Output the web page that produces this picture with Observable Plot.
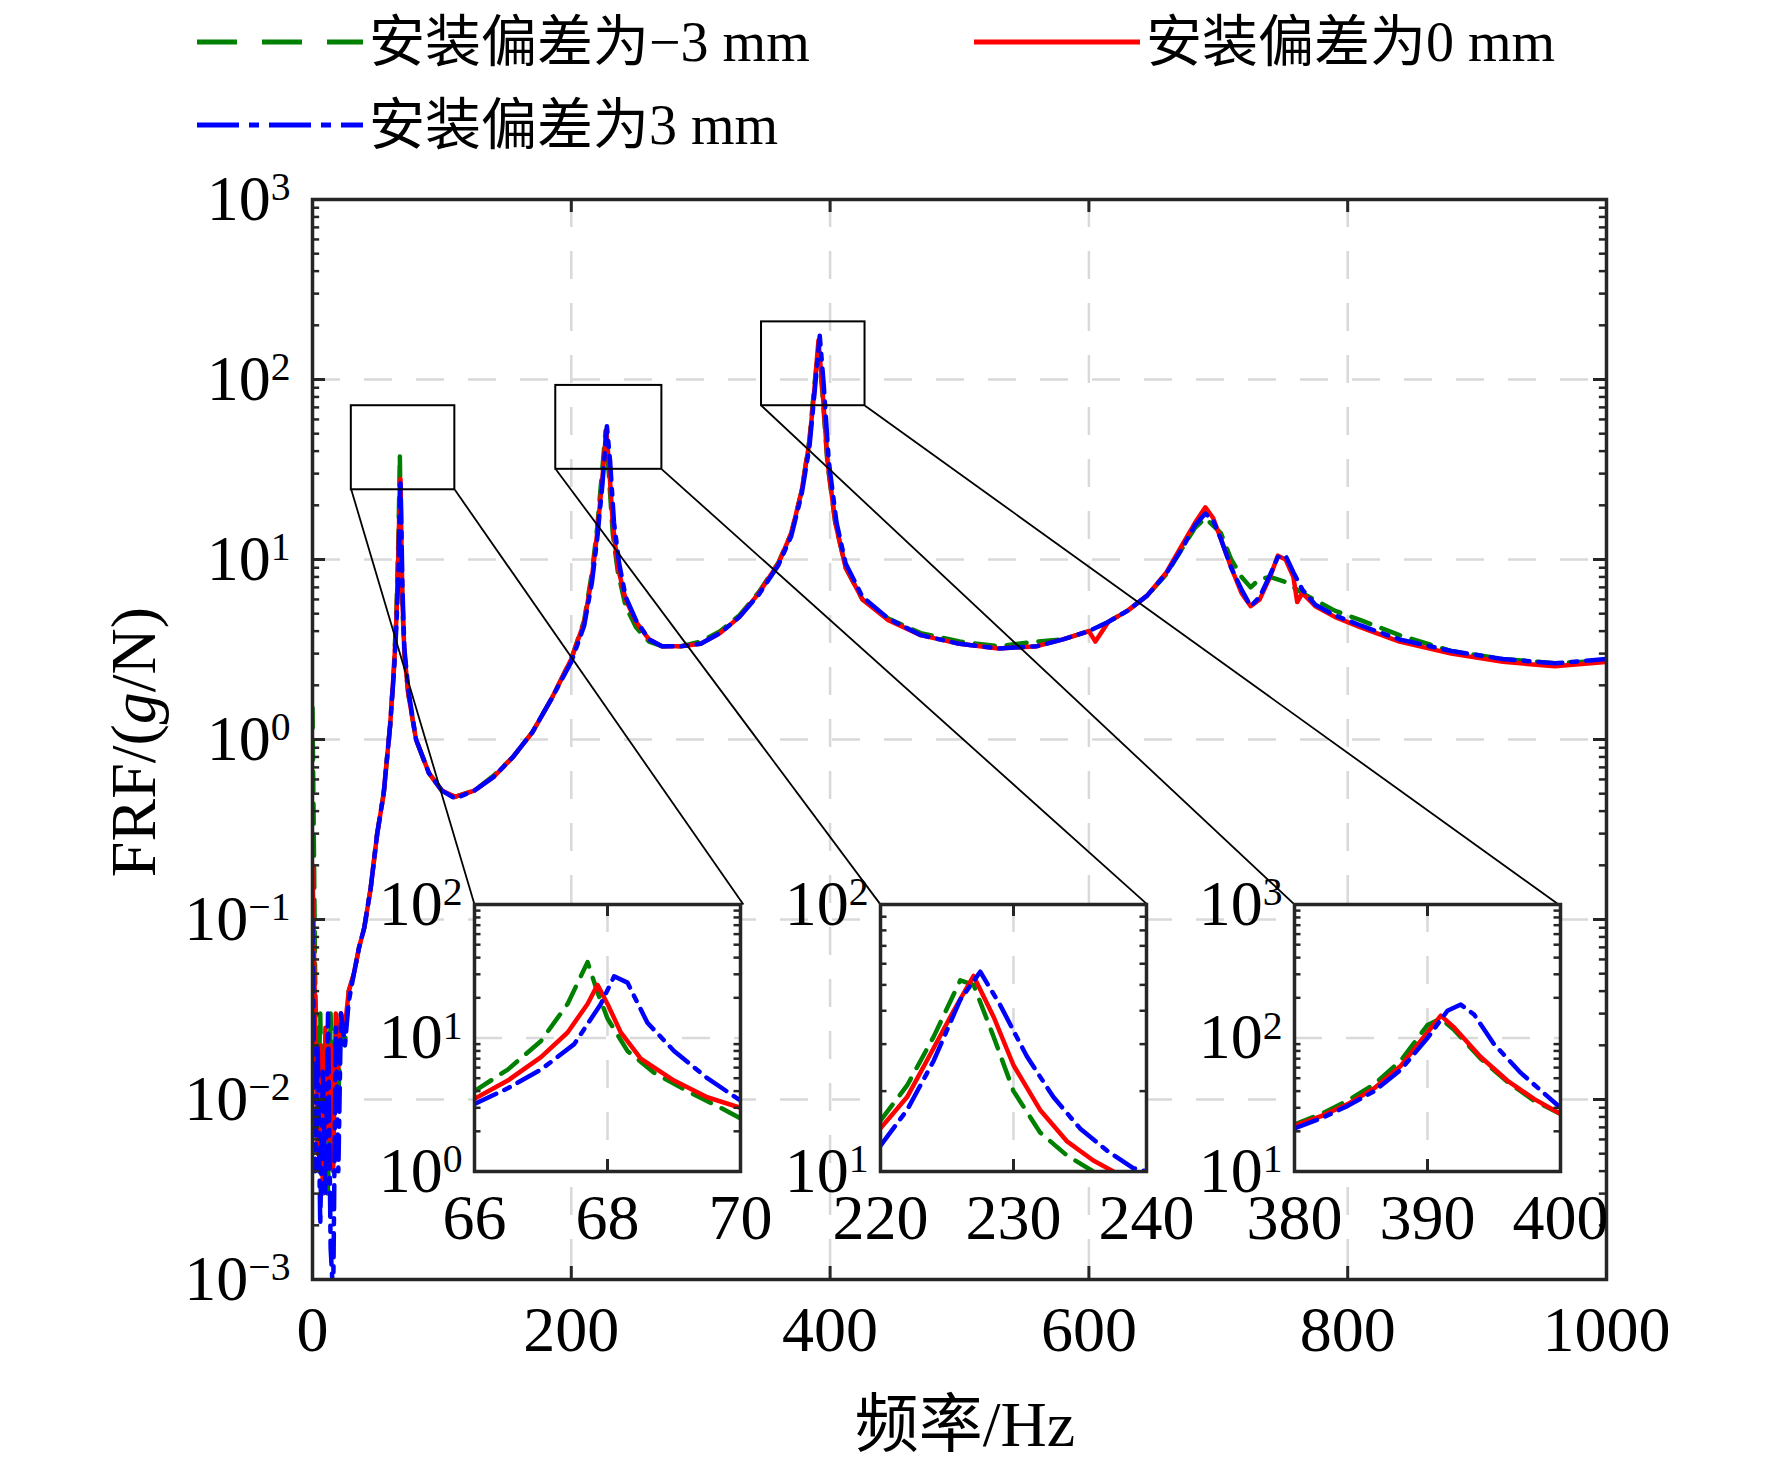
<!DOCTYPE html>
<html><head><meta charset="utf-8">
<script src="https://cdn.jsdelivr.net/npm/d3@7"></script>
<script src="https://cdn.jsdelivr.net/npm/@observablehq/plot@0.6"></script>
<style>
body{margin:0;background:#fff;}
#wrap{position:relative;width:1772px;height:1458px;font-family:"Liberation Serif","Noto Sans CJK SC",serif;}
.abs{position:absolute;overflow:visible;}
.leg{position:absolute;font-size:56px;line-height:56px;white-space:nowrap;display:flex;align-items:center;}
</style></head><body>
<div id="wrap"></div>
<script>
const seriesNames = ["安装偏差为−3 mm","安装偏差为0 mm","安装偏差为3 mm"];
const colors = ["#008000","#ff0000","#0000ff"];
const dashes = ["20,12","none","24,9,6,9"];
const xTicks = [0,200,400,600,800,1000];
const yTicks = [1e-3,1e-2,1e-1,1,10,100,1000];

const redMain = [[0,0.2],[2,0.03],[4,0.005],[6,0.02],[8,0.003],[10,0.025],[12,0.006],[14,0.02],[16,0.004],[18,0.03],[20,0.015],[22,0.03],[25,0.025],[28,0.04],[32,0.05],[36,0.07],[40,0.09],[45,0.15],[50,0.3],[55,0.5],[60,1.2],[63,2.5],[65,5],[66.5,12],[67.5,25],[68,28],[68.5,15],[69.5,6],[71,3],[74,1.8],[80,1],[90,0.65],[100,0.52],[110,0.48],[125,0.52],[140,0.62],[155,0.8],[170,1.1],[185,1.7],[200,2.8],[210,4.5],[216,8],[220,14],[224,28],[227,52],[229,35],[232,16],[236,9],[242,6],[250,4.5],[260,3.6],[270,3.3],[285,3.3],[300,3.4],[315,3.9],[330,4.8],[345,6.5],[360,9.5],[370,14],[378,24],[384,45],[388,90],[391,165],[394,90],[398,35],[404,16],[412,9],[425,6],[445,4.6],[470,3.8],[500,3.4],[530,3.2],[560,3.3],[580,3.6],[600,4],[605,3.5],[615,4.5],[630,5.2],[645,6.3],[660,8.5],[672,12],[682,16],[690,19.5],[696,17],[702,13],[710,9],[718,6.5],[725,5.5],[732,6],[740,8],[746,10.5],[752,10],[758,8],[761,5.8],[765,6.5],[775,5.5],[790,4.8],[810,4.2],[840,3.5],[880,3],[920,2.7],[960,2.55],[1000,2.7]];
const greenMain = [[0,1.5],[1,0.3],[2,0.05],[4,0.008],[6,0.03],[8,0.004],[10,0.02],[12,0.003],[14,0.03],[16,0.006],[18,0.02],[20,0.01],[22,0.03],[25,0.02],[28,0.04],[32,0.05],[36,0.07],[40,0.09],[45,0.15],[50,0.3],[55,0.5],[60,1.2],[63,2.6],[65,5.5],[66.5,14],[67.5,38],[68,20],[68.5,12],[69.5,5.5],[71,3],[74,1.8],[80,1],[90,0.65],[100,0.52],[110,0.48],[125,0.52],[140,0.63],[155,0.8],[170,1.1],[185,1.7],[200,2.8],[210,4.6],[216,8.5],[220,15],[224,32],[226.5,52],[229,30],[232,14],[236,8.5],[242,5.5],[250,4.2],[260,3.5],[270,3.3],[285,3.3],[300,3.5],[315,4],[330,4.9],[345,6.6],[360,9.6],[370,14],[378,24],[384,46],[388,95],[391,150],[394,85],[398,34],[404,16],[412,9],[425,6],[445,4.7],[470,3.9],[500,3.5],[530,3.3],[560,3.5],[580,3.6],[600,4],[615,4.5],[630,5.2],[645,6.3],[660,8.3],[672,11.5],[682,15],[690,17],[702,14],[710,10],[718,8],[725,7],[732,7.8],[740,8],[752,7.5],[765,6.5],[790,5.2],[810,4.6],[840,3.8],[880,3.1],[920,2.8],[960,2.65],[1000,2.75]];
const blueMain = [[0,0.1],[1,0.02],[2,0.004],[4,0.02],[6,0.002],[8,0.015],[10,0.003],[12,0.03],[14,0.0015],[16,0.0008],[18,0.025],[20,0.004],[22,0.03],[25,0.02],[28,0.035],[32,0.05],[36,0.07],[40,0.09],[45,0.15],[50,0.3],[55,0.5],[60,1.2],[63,2.4],[65,4.5],[66.5,9],[67.5,20],[68,28],[68.5,18],[69.5,7],[71,3.2],[74,1.9],[80,1],[90,0.65],[100,0.52],[110,0.47],[125,0.52],[140,0.62],[155,0.8],[170,1.1],[185,1.7],[200,2.7],[210,4.3],[216,7.5],[220,13],[224,26],[227.5,55],[230,35],[233,16],[237,9.5],[242,6.2],[250,4.6],[260,3.6],[270,3.3],[285,3.3],[300,3.4],[315,3.9],[330,4.8],[345,6.4],[360,9.3],[370,13.5],[378,23],[384,42],[388,85],[392,175],[395,95],[399,35],[405,16],[412,9.5],[425,6.2],[445,4.7],[470,3.8],[500,3.4],[530,3.2],[560,3.3],[580,3.6],[600,4],[615,4.5],[630,5.2],[645,6.3],[660,8.4],[672,11.5],[682,15.5],[690,18],[696,16.5],[702,13],[710,9],[718,6.8],[725,5.5],[732,6.2],[740,8.2],[746,10.3],[752,10.5],[758,8.5],[765,6.8],[775,5.6],[790,4.9],[810,4.3],[840,3.6],[880,3.1],[920,2.8],[960,2.65],[1000,2.8]];

const inset1 = {x:[66,70], y:[1,100], xt:[66,68,70], yt:[1,10,100],
  red:[[66,3.5],[66.5,4.8],[67,7.2],[67.4,11],[67.7,18],[67.85,25],[68,18],[68.2,11],[68.5,7],[69,4.8],[69.5,3.6],[70,3]],
  green:[[66,4],[66.5,5.8],[67,9.5],[67.4,18],[67.7,37],[67.85,22],[68,14],[68.3,8],[68.7,5.5],[69.2,4],[69.7,3],[70,2.5]],
  blue:[[66,3.2],[66.5,4.2],[67,5.8],[67.5,9],[67.9,18],[68.1,29],[68.3,26],[68.6,13],[69,8],[69.5,5],[70,3.4]]};
const inset2 = {x:[220,240], y:[10,100], xt:[220,230,240], yt:[10,100],
  red:[[220,14.5],[222,19],[224,29],[225.5,40],[227,54],[228.5,38],[230,25],[232,17],[234,13],[236,11],[238,9.7]],
  green:[[220,15.5],[222,21],[224,32],[226,52],[227,50],[228.5,32],[230,20],[232,14],[234,11.5],[236,10],[237.5,9.5]],
  blue:[[220,12.5],[222,17],[224,26],[226,44],[227.5,56],[229,42],[231,27],[233,19],[235,14.5],[237,12],[239,10.3],[240,10]]};
const inset3 = {x:[380,400], y:[10,1000], xt:[380,390,400], yt:[10,100,1000],
  red:[[380,22],[382,26],[384,32],[386,42],[388,62],[390,110],[391,147],[392,120],[394,72],[396,48],[398,35],[400,27]],
  green:[[380,22.5],[382,27],[384,34],[386,45],[388,68],[390,125],[391,140],[392,115],[394,70],[396,47],[398,34],[400,27]],
  blue:[[380,21],[382,25],[384,31],[386,40],[388,58],[390,100],[391.5,160],[392.5,178],[393.5,150],[395,90],[397,55],[400,30]]};

const boxes = [[30,110,24.4,71.5],[188,270,31.7,92.7],[347,427,71.5,209]];
const insetTops = [[125.2,333],[439,645.3],[759,963]];
const insetTopY = 0.121;

const wrap = document.getElementById("wrap");
const fmt = d => "10^" + Math.round(Math.log10(d));
const xfmt = d => String(d);
const ink = "#262626";

function superscripts(svg){
  svg.querySelectorAll("text").forEach(t=>{
    const m = t.textContent.match(/^10\^(-?\d+)$/);
    if(!m) return;
    t.textContent="";
    const ns="http://www.w3.org/2000/svg";
    const a=document.createElementNS(ns,"tspan"); a.textContent="10";
    const b=document.createElementNS(ns,"tspan"); b.textContent=m[1].replace("-","−");
    b.setAttribute("dy","-0.5em"); b.setAttribute("font-size","0.62em");
    t.appendChild(a); t.appendChild(b);
  });
}
function minorTicks(lo,hi){const r=[];for(let e=Math.log10(lo);e<Math.log10(hi);e++)for(let k=2;k<=9;k++)r.push(k*10**e);return r;}
function lines(r,g,b,sw){
  return [
    Plot.line(g,{x:d=>d[0],y:d=>d[1],stroke:colors[0],strokeWidth:sw,strokeDasharray:dashes[0],clip:true}),
    Plot.line(r,{x:d=>d[0],y:d=>d[1],stroke:colors[1],strokeWidth:sw,clip:true}),
    Plot.line(b,{x:d=>d[0],y:d=>d[1],stroke:colors[2],strokeWidth:sw,strokeDasharray:dashes[2],clip:true})
  ];
}

const W=1772,H=1458,ML=312,MR=166,MT=199,MB=179;
const xr=1000, tx=13/1.294, ty=10**(13/180);
const main = Plot.plot({
  width:W,height:H,marginLeft:ML,marginRight:MR,marginTop:MT,marginBottom:MB,
  style:{fontFamily:"Liberation Serif",fontSize:"64px",color:"#000",background:"transparent",overflow:"visible"},
  x:{domain:[0,1000],ticks:xTicks,tickFormat:xfmt,tickSize:0,tickPadding:26,label:null},
  y:{type:"log",domain:[1e-3,1e3],ticks:yTicks,tickFormat:fmt,tickSize:0,tickPadding:22,label:null},
  marks:[
    Plot.ruleX(xTicks.slice(1,-1),{stroke:"#d9d9d9",strokeWidth:2.5,strokeDasharray:"28,24"}),
    Plot.ruleY(yTicks.slice(1,-1),{stroke:"#d9d9d9",strokeWidth:2.5,strokeDasharray:"28,24"}),
    ...lines(redMain,greenMain,blueMain,4.5),
    Plot.rect(boxes,{x1:d=>d[0],x2:d=>d[1],y1:d=>d[2],y2:d=>d[3],stroke:"#000",strokeWidth:2,fill:"none"}),
    Plot.link(boxes.map((b,i)=>[b[0],b[2],insetTops[i][0]]),{x1:d=>d[0],y1:d=>d[1],x2:d=>d[2],y2:insetTopY,stroke:"#000",strokeWidth:1.8}),
    Plot.link(boxes.map((b,i)=>[b[1],b[2],insetTops[i][1]]),{x1:d=>d[0],y1:d=>d[1],x2:d=>d[2],y2:insetTopY,stroke:"#000",strokeWidth:1.8}),
    Plot.ruleX(xTicks,{y1:1e-3,y2:1e-3*ty,stroke:ink,strokeWidth:3}),
    Plot.ruleX(xTicks,{y1:1e3,y2:1e3/ty,stroke:ink,strokeWidth:3}),
    Plot.ruleY(yTicks,{x1:0,x2:tx,stroke:ink,strokeWidth:3}),
    Plot.ruleY(yTicks,{x1:xr,x2:xr-tx,stroke:ink,strokeWidth:3}),
    Plot.ruleY(minorTicks(1e-3,1e3),{x1:0,x2:tx*0.55,stroke:ink,strokeWidth:2.5}),
    Plot.ruleY(minorTicks(1e-3,1e3),{x1:xr,x2:xr-tx*0.55,stroke:ink,strokeWidth:2.5}),
    Plot.frame({stroke:ink,strokeWidth:3.5})
  ]
});
main.classList.add("abs"); main.style.left="0px"; main.style.top="0px";
superscripts(main);
wrap.appendChild(main);

const insetPos=[[474,904],[880,904],[1294,904]];
[inset1,inset2,inset3].forEach((s,i)=>{
  const iw=266,ih=267,l=110,t=20,r=20,b=100;
  const lr=Math.log10(s.y[1]/s.y[0]);
  const dx=(s.x[1]-s.x[0])*13/iw, ity=10**(12*lr/ih);
  const p=Plot.plot({
    width:iw+l+r,height:ih+t+b,marginLeft:l,marginRight:r,marginTop:t,marginBottom:b,
    style:{fontFamily:"Liberation Serif",fontSize:"64px",color:"#000",background:"transparent",overflow:"visible"},
    x:{domain:s.x,ticks:s.xt,tickFormat:xfmt,tickSize:0,tickPadding:22,label:null},
    y:{type:"log",domain:s.y,ticks:s.yt,tickFormat:fmt,tickSize:0,tickPadding:12,label:null},
    marks:[
      Plot.frame({fill:"white"}),
      Plot.ruleX(s.xt.slice(1,-1),{stroke:"#d9d9d9",strokeWidth:2.5,strokeDasharray:"28,24"}),
      Plot.ruleY(s.yt.slice(1,-1),{stroke:"#d9d9d9",strokeWidth:2.5,strokeDasharray:"28,24"}),
      ...lines(s.red,s.green,s.blue,4.5),
      Plot.ruleX(s.xt,{y1:s.y[0],y2:s.y[0]*ity,stroke:ink,strokeWidth:3}),
      Plot.ruleX(s.xt,{y1:s.y[1],y2:s.y[1]/ity,stroke:ink,strokeWidth:3}),
      Plot.ruleY(minorTicks(s.y[0],s.y[1]),{x1:s.x[0],x2:s.x[0]+dx*0.5,stroke:ink,strokeWidth:2.5}),
      Plot.ruleY(minorTicks(s.y[0],s.y[1]),{x1:s.x[1],x2:s.x[1]-dx*0.5,stroke:ink,strokeWidth:2.5}),
      Plot.frame({stroke:ink,strokeWidth:3.5})
    ]
  });
  p.classList.add("abs"); p.style.left=(insetPos[i][0]-l)+"px"; p.style.top=(insetPos[i][1]-t)+"px";
  superscripts(p);
  wrap.appendChild(p);
});

function sample(i){
  return `<svg width="166" height="20" style="margin-right:6px"><line x1="0" y1="10" x2="166" y2="10" stroke="${colors[i]}" stroke-width="5" stroke-dasharray="${i==0?'40,25':i==2?'42,10,10,10':'none'}"/></svg>`;
}
const legPos=[[197,42],[974,42],[197,125]];
[0,1,2].forEach(i=>{
  const d=document.createElement("div"); d.className="leg";
  d.style.left=legPos[i][0]+"px"; d.style.top=(legPos[i][1]-28)+"px";
  d.innerHTML=sample(i)+`<span>${seriesNames[i]}</span>`;
  wrap.appendChild(d);
});
const yl=document.createElement("div"); yl.className="abs";
yl.style.cssText+="left:134px;top:742px;font-size:64px;white-space:nowrap;transform:translate(-50%,-50%) rotate(-90deg);";
yl.innerHTML="FRF/(<i>g</i>/N)";
wrap.appendChild(yl);
const xl=document.createElement("div"); xl.className="abs";
xl.style.cssText+="left:965px;top:1418px;font-size:64px;white-space:nowrap;transform:translate(-50%,-50%);";
xl.textContent="频率/Hz";
wrap.appendChild(xl);
</script></body></html>
